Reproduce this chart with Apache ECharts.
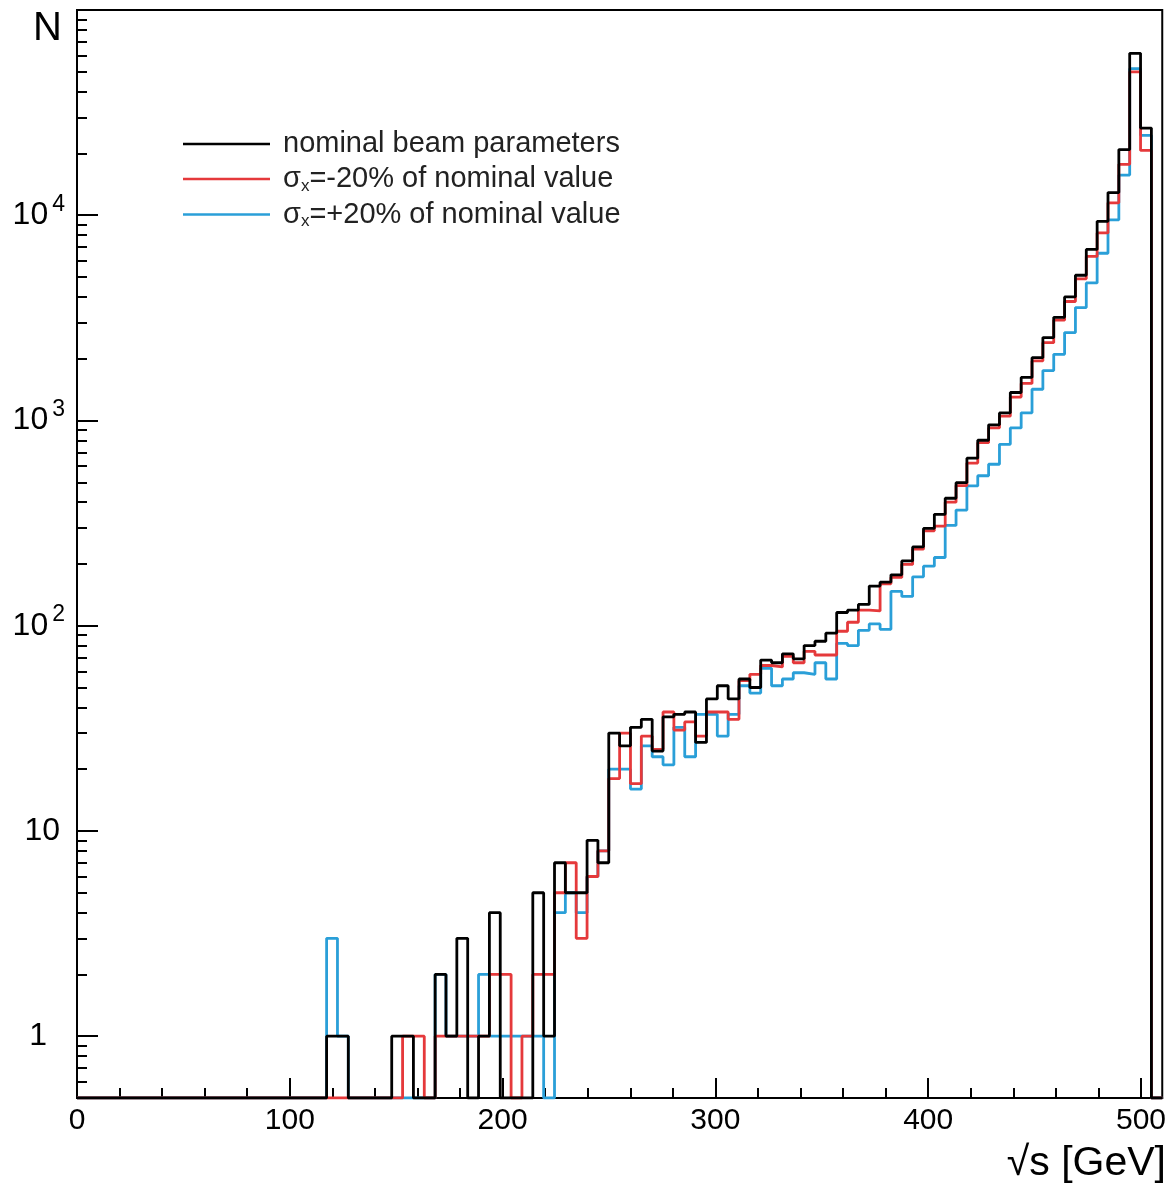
<!DOCTYPE html>
<html>
<head>
<meta charset="utf-8">
<script src="https://cdn.jsdelivr.net/npm/echarts@6/dist/echarts.min.js"></script>
<style>
    html, body { margin: 0; padding: 0; background: #fff; }
    #chart { width: 1169px; height: 1191px; }
</style>
</head>
<body>
<div id="chart"></div>
<script>
// 100 bins of 5.1 GeV from 0 to 510
var binWidth = 5.1;

var nominal = [
    0, 0, 0, 0, 0, 0, 0, 0, 0, 0,
    0, 0, 0, 0, 0, 0, 0, 0, 0, 0,
    0, 0, 0, 1, 1, 0, 0, 0, 0, 1,
    1, 0, 0, 2, 1, 3, 0, 1, 4, 0,
    0, 0, 5, 1, 7, 5, 5, 9, 7, 30,
    26, 32, 35, 24.5, 36, 37, 38, 27, 44, 51,
    44, 55, 50, 68, 66, 73, 69, 80, 84, 92,
    116, 119, 127, 156, 163, 177, 207, 242, 298, 349,
    418, 498, 655, 801, 952, 1088, 1369, 1621, 2024, 2535,
    3180, 4000, 5100, 6815, 9340, 12900, 20880, 61500, 26600, 0
];

var sigmaMinus = [
    0, 0, 0, 0, 0, 0, 0, 0, 0, 0,
    0, 0, 0, 0, 0, 0, 0, 0, 0, 0,
    0, 0, 0, 0, 0, 0, 0, 0, 0, 0,
    1, 1, 0, 1, 1, 1, 1, 1, 2, 2,
    0, 1, 2, 2, 5, 7, 3, 6, 8, 18,
    30, 17, 29, 25, 38, 31, 34, 29, 38, 38,
    35, 54, 58, 64, 63, 71, 66, 75, 72, 72,
    94, 104, 119, 118, 160, 172, 199, 236, 290, 306,
    400, 482, 620, 780, 920, 1050, 1300, 1515, 1950, 2395,
    3080, 3800, 4900, 6300, 8200, 11500, 17700, 50000, 20700, 0
];

var sigmaPlus = [
    0, 0, 0, 0, 0, 0, 0, 0, 0, 0,
    0, 0, 0, 0, 0, 0, 0, 0, 0, 0,
    0, 0, 0, 3, 1, 0, 0, 0, 0, 0,
    0, 0, 0, 2, 1, 1, 1, 2, 1, 1,
    1, 1, 1, 0, 4, 5, 4, 6, 8, 20,
    20, 16, 26, 23, 21, 32, 23, 37, 37, 29,
    37, 51, 47, 62, 51, 55, 59, 58, 66, 55,
    82, 80, 95, 102, 96, 147, 139, 173, 195, 215,
    308, 366, 480, 538, 612, 765, 920, 1090, 1420, 1750,
    2100, 2680, 3550, 4680, 6530, 9500, 15700, 51800, 24500, 0
];

var xTicks = [0, 100, 200, 300, 400, 500];
var xMinorTicks = [20, 40, 60, 80, 120, 140, 160, 180, 220, 240, 260, 280,
                   320, 340, 360, 380, 420, 440, 460, 480];
var yDecades = [0, 1, 2, 3, 4];   // log10 of 1 ... 10^4
var yLabels = ['{one|1}', '{ten|10}', '10{sup|2}', '10{sup|3}', '10{sup|4}'];

var yMin = Math.log10(0.5);
var yMax = 5;

// minor ticks of the log axis: 0.6..0.9, 2..9, 20..90, ...
var yMinorTicks = [];
for (var p = -1; p <= 4; p++) {
    for (var m = 2; m <= 9; m++) {
        var v = Math.log10(m) + p;
        if (v > yMin && v < yMax) yMinorTicks.push(v);
    }
}

function toSteps(counts) {
    var pts = counts.map(function (v, i) {
        return [i * binWidth, v > 0 ? Math.log10(v) : yMin];
    });
    pts.push([counts.length * binWidth, pts[pts.length - 1][1]]);
    return pts;
}

var font = "'Liberation Sans', Arial, Helvetica, sans-serif";

var option = {
    animation: false,
    backgroundColor: '#fff',
    title: [
        { text: 'N', left: 28, top: 4, textStyle: { fontSize: 40, fontWeight: 'normal', color: '#000', fontFamily: font } },
        { text: '√s [GeV]', right: -2, bottom: 2, textStyle: { fontSize: 41, fontWeight: 'normal', color: '#000', fontFamily: font } }
    ],
    legend: {
        orient: 'vertical',
        left: 178,
        top: 124,
        itemGap: 5,
        itemWidth: 87,
        itemHeight: 2.5,
        icon: 'rect',
        data: ['nominal beam parameters', 'σx=-20% of nominal value', 'σx=+20% of nominal value'],
        formatter: function (name) {
            return name.replace('σx', '{s|σ}{x|x}');
        },
        textStyle: {
            fontSize: 29,
            lineHeight: 30,
            color: '#222',
            fontFamily: font,
            padding: [0, 0, 0, 8],
            rich: {
                s: { fontSize: 29, fontFamily: font, color: '#222' },
                x: { fontSize: 17, fontFamily: font, color: '#222', padding: [14, 0, 0, 0] }
            }
        }
    },
    grid: {
        left: 77,
        top: 10,
        right: 3,
        bottom: 93,
        show: true,
        borderColor: '#000',
        borderWidth: 2
    },
    xAxis: [
        {
            type: 'value', min: 0, max: 510, position: 'bottom',
            axisLine: { show: true, onZero: false, lineStyle: { color: '#000', width: 2 } },
            axisTick: { show: true, customValues: xTicks, inside: true, length: 20, lineStyle: { color: '#000', width: 2 } },
            axisLabel: { customValues: xTicks, margin: 8, fontSize: 30, color: '#000', fontFamily: font },
            splitLine: { show: false }
        },
        {
            type: 'value', min: 0, max: 510, position: 'bottom',
            axisLine: { show: false, onZero: false },
            axisTick: { show: true, customValues: xMinorTicks, inside: true, length: 10, lineStyle: { color: '#000', width: 2 } },
            axisLabel: { show: false },
            splitLine: { show: false }
        }
    ],
    yAxis: [
        {
            type: 'value', min: yMin, max: yMax, position: 'left',
            axisLine: { show: true, onZero: false, lineStyle: { color: '#000', width: 2 } },
            axisTick: { show: true, customValues: yDecades, inside: true, length: 21, lineStyle: { color: '#000', width: 2 } },
            axisLabel: {
                customValues: yDecades,
                margin: 12,
                fontSize: 32,
                color: '#000',
                fontFamily: font,
                formatter: function (val) {
                    return yLabels[Math.round(val)];
                },
                rich: {
                    one: { fontSize: 32, fontFamily: font, color: '#000', padding: [0, 18, 0, 0] },
                    ten: { fontSize: 32, fontFamily: font, color: '#000', padding: [0, 5, 0, 0] },
                    sup: { fontSize: 23, fontFamily: font, color: '#000', padding: [0, 0, 22, 4] }
                }
            },
            splitLine: { show: false }
        },
        {
            type: 'value', min: yMin, max: yMax, position: 'left',
            axisLine: { show: false, onZero: false },
            axisTick: { show: true, customValues: yMinorTicks, inside: true, length: 10, lineStyle: { color: '#000', width: 2 } },
            axisLabel: { show: false },
            splitLine: { show: false }
        }
    ],
    series: [
        {
            name: 'σx=+20% of nominal value',
            type: 'line', step: 'end', symbol: 'none',
            xAxisIndex: 0, yAxisIndex: 0,
            color: '#2a9fd8',
            lineStyle: { color: '#2a9fd8', width: 2.8 },
            data: toSteps(sigmaPlus)
        },
        {
            name: 'σx=-20% of nominal value',
            type: 'line', step: 'end', symbol: 'none',
            xAxisIndex: 0, yAxisIndex: 0,
            color: '#e5393b',
            lineStyle: { color: '#e5393b', width: 2.8 },
            data: toSteps(sigmaMinus)
        },
        {
            name: 'nominal beam parameters',
            type: 'line', step: 'end', symbol: 'none',
            xAxisIndex: 0, yAxisIndex: 0,
            color: '#000',
            lineStyle: { color: '#000', width: 2.8 },
            data: toSteps(nominal)
        }
    ]
};

var chart = echarts.init(document.getElementById('chart'));
chart.setOption(option);
</script>
</body>
</html>
